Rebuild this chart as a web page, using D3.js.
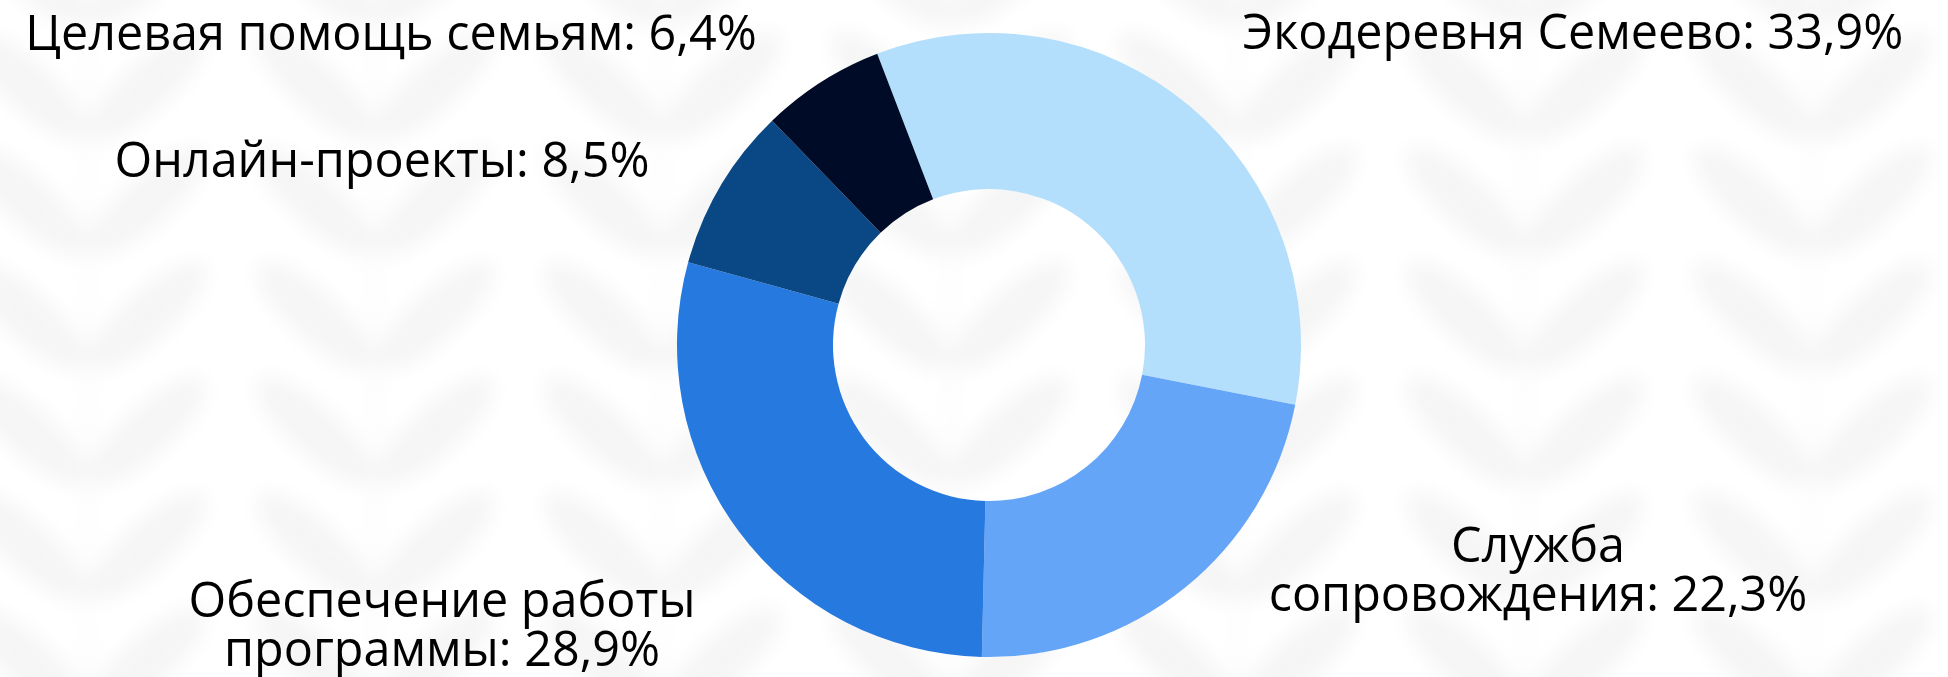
<!DOCTYPE html>
<html>
<head>
<meta charset="utf-8">
<script src="https://cdn.jsdelivr.net/npm/d3@7"></script>
<style>
  html, body { margin: 0; padding: 0; background: #fff; overflow: hidden; }
  #chart text { font-family: "Open Sans", "Noto Sans", sans-serif; fill: #000; }
</style>
</head>
<body>
<div id="chart"></div>
<script>
// Структура расходов — доли по направлениям, %
const categories = [
  "Экодеревня Семеево",
  "Служба сопровождения",
  "Обеспечение работы программы",
  "Онлайн-проекты",
  "Целевая помощь семьям"
];
const shares = [33.9, 22.3, 28.9, 8.5, 6.4];
const colors = ["#b4dffc", "#64a5f7", "#2679de", "#0a4785", "#000c27"];

// where each label goes and how many words stay on the first line (0 = one line)
const labelLayout = [
  { x: 1573, y: 49, wrap: 0 },
  { x: 1538, y: 562, wrap: 1 },
  { x: 442, y: 617, wrap: 2 },
  { x: 382, y: 177, wrap: 0 },
  { x: 391, y: 50, wrap: 0 }
];

const W = 1948, H = 677;
const cx = 989, cy = 345, outerR = 312, innerR = 156;

const svg = d3.select("#chart").append("svg")
  .attr("width", W)
  .attr("height", H);

// faint blurred sprig pattern in the background
const defs = svg.append("defs");
defs.append("filter")
  .attr("id", "soft")
  .attr("x", "-10%").attr("y", "-10%").attr("width", "120%").attr("height", "120%")
  .append("feGaussianBlur")
  .attr("stdDeviation", 10);

const bg = svg.append("g").attr("filter", "url(#soft)");
const colXs = d3.range(-200, W + 300, 287.5);
const rowYs = d3.range(-92, H + 200, 115);
colXs.forEach(x0 => {
  bg.append("line")
    .attr("x1", x0).attr("x2", x0)
    .attr("y1", -50).attr("y2", H + 50)
    .attr("stroke", "#f8f8f8")
    .attr("stroke-width", 5);
  rowYs.forEach(y0 => {
    [-1, 1].forEach(side => {
      bg.append("ellipse")
        .attr("cx", 0).attr("cy", 0)
        .attr("rx", 76).attr("ry", 24)
        .attr("fill", "#f5f5f5")
        .attr("transform", `translate(${x0 + side * 60},${y0 - 52}) rotate(${side * -42})`);
    });
  });
});

// donut
const pie = d3.pie()
  .sort(null)
  .value(d => d)
  .startAngle(-21 * Math.PI / 180)
  .endAngle(339 * Math.PI / 180);

const arc = d3.arc()
  .innerRadius(innerR)
  .outerRadius(outerR);

const g = svg.append("g").attr("transform", `translate(${cx},${cy})`);

g.selectAll("path.slice")
  .data(pie(shares))
  .join("path")
  .attr("class", "slice")
  .attr("d", arc)
  .attr("fill", (d, i) => colors[i]);

// labels
const fmt = v => v.toFixed(1).replace(".", ",") + "%";

categories.forEach((name, i) => {
  const pos = labelLayout[i];
  const full = `${name}: ${fmt(shares[i])}`;
  const words = full.split(" ");
  const lines = pos.wrap ? [words.slice(0, pos.wrap).join(" "), words.slice(pos.wrap).join(" ")] : [full];
  const t = svg.append("text")
    .attr("x", pos.x)
    .attr("y", pos.y)
    .attr("text-anchor", "middle")
    .style("font-size", "48.5px");
  lines.forEach((ln, k) => {
    t.append("tspan")
      .attr("x", pos.x)
      .attr("dy", k === 0 ? 0 : 49)
      .text(ln);
  });
});
</script>
</body>
</html>
